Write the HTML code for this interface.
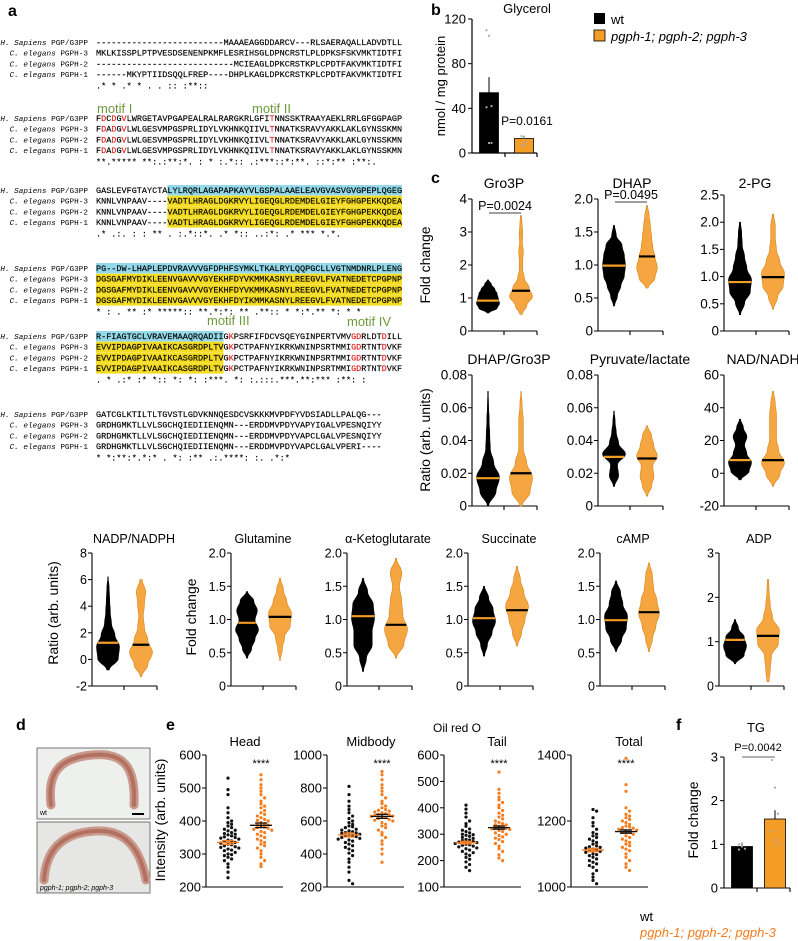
<!DOCTYPE html>
<html><head><meta charset="utf-8">
<style>
html,body{margin:0;padding:0;background:#fff;}
svg{display:block;font-family:"Liberation Sans",sans-serif;}
.mono{font-family:"Liberation Mono",monospace;font-size:8.5px;stroke:#000;stroke-width:0.15px;}
.lab{font-family:"Liberation Mono",monospace;font-size:7.7px;}
</style></head>
<body>
<svg id="fig" width="798" height="941" viewBox="0 0 798 941" xmlns="http://www.w3.org/2000/svg">
<text x="8" y="16" font-size="16" font-weight="bold">a</text>
<text x="431" y="15" font-size="16" font-weight="bold">b</text>
<text x="431" y="183" font-size="16" font-weight="bold">c</text>
<text x="16" y="730" font-size="16" font-weight="bold">d</text>
<text x="166" y="730" font-size="16" font-weight="bold">e</text>
<text x="676" y="730" font-size="16" font-weight="bold">f</text>
<g id="align"></g>
<g>
<rect x="594" y="13" width="11" height="11" fill="#000"/>
<text x="611" y="24" font-size="13">wt</text>
<rect x="594" y="30" width="11" height="11" fill="#f39c26" stroke="#000" stroke-width="0.8"/>
<text x="611" y="41" font-size="13" font-style="italic">pgph-1; pgph-2; pgph-3</text>
</g>
<g>
<rect x="37" y="748" width="113" height="71" fill="#eef0ee" stroke="#555" stroke-width="0.8"/>
<path d="M51,805 C47,772 60,758 92,755 C122,752 136,765 134,805" fill="none" stroke="#c99a8c" stroke-width="9" stroke-linecap="round"/>
<path d="M51,805 C47,772 60,758 92,755 C122,752 136,765 134,805" fill="none" stroke="#a9604f" stroke-width="4" stroke-linecap="round" opacity="0.7"/>
<text x="40" y="815" font-size="7">wt</text>
<rect x="132" y="813" width="12" height="2" fill="#000"/>
<rect x="37" y="822" width="113" height="71" fill="#e6e6e4" stroke="#555" stroke-width="0.8"/>
<path d="M44,880 C46,850 62,833 95,831 C125,829 140,848 146,880" fill="none" stroke="#c99a8c" stroke-width="9" stroke-linecap="round"/>
<path d="M44,880 C46,850 62,833 95,831 C125,829 140,848 146,880" fill="none" stroke="#a9604f" stroke-width="4" stroke-linecap="round" opacity="0.7"/>
<text x="40" y="890" font-size="7" font-style="italic">pgph-1; pgph-2; pgph-3</text>
</g>
<text x="457" y="732" font-size="12" text-anchor="middle">Oil red O</text>
<text x="640" y="921" font-size="13">wt</text>
<text x="640" y="937" font-size="13" font-style="italic" fill="#f47d20">pgph-1; pgph-2; pgph-3</text>
</svg>
<script>
const NS="http://www.w3.org/2000/svg";
const svg=document.getElementById('fig');
function mk(tag,attrs,parent){const e=document.createElementNS(NS,tag);for(const k in attrs)e.setAttribute(k,attrs[k]);(parent||svg).appendChild(e);return e;}

/* ---------- alignment ---------- */
const alnLabels=[["H. Sapiens"," PGP/G3PP"],["C. elegans"," PGPH-3"],["C. elegans"," PGPH-2"],["C. elegans"," PGPH-1"]];
const alnBlocks=[
["-------------------------MAAAEAGGDDARCV---RLSAERAQALLADVDTLL","MKLKISSPLPTPVESDSENENPKMFLESRIHSGLDPNCRSTLPLDPKSFSKVMKTIDTFI","---------------------------MCIEAGLDPKCRSTKPLCPDTFAKVMKTIDTFI","------MKYPTIIDSQQLFREP----DHPLKAGLDPKCRSTKPLCPDTFAKVMKTIDTFI","                                .* * .*    *  .    .   ::  :**::"],
["FDCDGVLWRGETAVPGAPEALRALRARGKRLGFITNNSSKTRAAYAEKLRRLGFGGPAGP","FDADGVLWLGESVMPGSPRLIDYLVKHNKQIIVLTNNATKSRAVYAKKLAKLGYNSSKMN","FDADGVLWLGESVMPGSPRLIDYLVKHNKQIIVLTNNATKSRAVYAKKLAKLGYNSSKMN","FDADGVLWLGESVMPGSPRLIDYLVKHNKQIIVLTNNATKSRAVYAKKLAKLGYNSSKMN","**.***** **:.:**:*. :  *  :.*:: .:***::*:**.  ::*:**  :**:."],
["GASLEVFGTAYCTALYLRQRLAGAPAPKAYVLGSPALAAELEAVGVASVGVGPEPLQGEG","KNNLVNPAAV----VADTLHRAGLDGKRVYLIGEQGLRDEMDELGIEYFGHGPEKKQDEA","KNNLVNPAAV----VADTLHRAGLDGKRVYLIGEQGLRDEMDELGIEYFGHGPEKKQDEA","KNNLVNPAAV----VADTLHRAGLDGKRVYLIGEQGLRDEMDELGIEYFGHGPEKKQDEA"," .*  .:.  :    : **  . :.*::*. .*  *:: ..:*:  .* ***  *.*."],
["PG--DW-LHAPLEPDVRAVVVGFDPHFSYMKLTKALRYLQQPGCLLVGTNMDNRLPLENG","DGSGAFMYDIKLEENVGAVVVGYEKHFDYVKMMKASNYLREEGVLFVATNEDETCPGPNP","DGSGAFMYDIKLEENVGAVVVGYEKHFDYVKMMKASNYLREEGVLFVATNEDETCPGPNP","DGSGAFMYDIKLEENVGAVVVGYEKHFDYIKMMKASNYLREEGVLFVATNEDETCPGPNP","*   :  .  ** :* *****:: **.*:*: ** .**:: * *:*.** *:  *  *"],
["R-FIAGTGCLVRAVEMAAQRQADIIGKPSRFIFDCVSQEYGINPERTVMVGDRLDTDILL","EVVIPDAGPIVAAIKCASGRDPLTVGKPCTPAFNYIKRKWNINPSRTMMIGDRTNTDVKF","EVVIPDAGPIVAAIKCASGRDPLTVGKPCTPAFNYIKRKWNINPSRTMMIGDRTNTDVKF","EVVIPDAGPIVAAIKCASGRDPLTVGKPCTPAFNYIKRKWNINPSRTMMIGDRTNTDVKF"," . * .:* :* *:: *: *:    :***.   *: :.:::.***.**:***  :**: :"],
["GATCGLKTILTLTGVSTLGDVKNNQESDCVSKKKMVPDFYVDSIADLLPALQG---","GRDHGMKTLLVLSGCHQIEDIIENQMN---ERDDMVPDYVAPYIGALVPESNQIYY","GRDHGMKTLLVLSGCHQIEDIIENQMN---ERDDMVPDYVAPCLGALVPESNQIYY","GRDHGMKTLLVLSGCHQIEDIIENQMN---ERDDMVPDYVAPCLGALVPERI----","*   *:**:*.*:*   . *: :**      .:.****:   :.  .*:*"]
];
const alnBaselines=[45,121,193,271,339,417];
const alnRed=[[],[1,3,5,34],[],[],[26,50,51,56],[]];
const alnCyan=[null,null,[14,60],[0,60],[0,25],null];
const alnYellow=[null,null,[14,60],[0,60],[0,25],null];
const ag=document.getElementById('align');
const CW=5.1,X0=96;
alnBlocks.forEach((blk,bi)=>{
  const by=alnBaselines[bi];
  for(let r=0;r<5;r++){
    const y=by+(r<4?r*10.7:4*10.7+0.5);
    if(r<4){
      const hl=r===0?alnCyan[bi]:alnYellow[bi];
      if(hl){
        const rc=mk('rect',{x:X0+hl[0]*CW,y:y-8,width:(hl[1]-hl[0])*CW,height:10.5,fill:r===0?'#93d9ea':'#f4dc22'},ag);
        
        
      }
      const lt=mk('text',{x:88,y:y,'text-anchor':'end','class':'lab'},ag);
      
      
      const sp1=mk('tspan',{'font-style':'italic'},lt);sp1.textContent=alnLabels[r][0];
      const sp2=mk('tspan',{},lt);sp2.textContent=alnLabels[r][1];
    }
    const seq=blk[r];
    const t=mk('text',{x:X0,y:y,'class':'mono','xml:space':'preserve'},ag);
    
    
    const reds=alnRed[bi];
    let cur='',curRed=false;
    const flush=()=>{if(!cur)return;const s=mk('tspan',curRed?{fill:'#e52420',stroke:'#e52420'}:{},t);s.textContent=cur;cur='';};
    for(let i=0;i<seq.length;i++){const isR=r<4&&reds.includes(i);if(isR!==curRed){flush();curRed=isR;}cur+=seq[i];}
    flush();
  }
});
const motifs=[["motif I",97,113],["motif II",252,113],["motif III",207,325],["motif IV",347,326]];
motifs.forEach(m=>{const t=mk('text',{x:m[1],y:m[2],'font-size':13,fill:'#6e9a3c'},ag);t.textContent=m[0];

});

/* ---------- panel b: glycerol bars ---------- */
const glyGroups=["wt","pgph-1; pgph-2; pgph-3"];
const glyMeans=[54,13];
const glySem=[14,2.5];
const glyTicks=[0,40,80,120];
const glyPoints=[[110,105,42,41,9,9],[15,14,10,8,7]];
(function(){
  const ax=472,y0=153,y1=19,vmax=120;
  const sy=v=>y0-(v/vmax)*(y0-y1);
  const g=mk('g',{});
  
  
  const tt=mk('text',{x:527,y:13,'font-size':13,'text-anchor':'middle'},g);tt.textContent='Glycerol';
  
  
  const yl=mk('text',{x:0,y:0,'font-size':13,'text-anchor':'middle',transform:`translate(445,${(y0+y1)/2}) rotate(-90)`},g);yl.textContent='nmol / mg protein';
  
  
  const ya=mk('line',{x1:ax,y1:y1,x2:ax,y2:y0,stroke:'#000','stroke-width':1.2},g);
  
  
  glyTicks.forEach(v=>{const l=mk('line',{x1:ax-4,y1:sy(v),x2:ax,y2:sy(v),stroke:'#000'},g);
    
    
    const tx=mk('text',{x:ax-6,y:sy(v)+4.5,'font-size':13,'text-anchor':'end'},g);tx.textContent=v;
    
    });
  const xa=mk('path',{d:`M${ax},${y0}H537M505,${y0}v4M537,${y0}v4`,stroke:'#000','stroke-width':1.2,fill:'none'},g);
  
  
  const cx=[489,524];
  glyMeans.forEach((m,i)=>{
    const eb=mk('line',{x1:cx[i],y1:sy(m),x2:cx[i],y2:sy(m+glySem[i]),stroke:'#000','stroke-width':1},g);
    
    
    const b=mk('rect',{x:cx[i]-9.5,y:sy(m),width:19,height:y0-sy(m),fill:i?'#f39c26':'#000',stroke:'#000','stroke-width':0.8},g);
    
    
    glyPoints[i].forEach((p,k)=>{const c=mk('circle',{cx:cx[i]+((k%3)-1)*2.5,cy:sy(p),r:1.1,fill:'#aaa'},g);
      
      });
  });
  const pv=mk('text',{x:527,y:125,'font-size':12,'text-anchor':'middle'},g);pv.textContent='P=0.0161';
  
  
})();

/* ---------- panel c + row 3: violins ---------- */
const vTitles=["Gro3P","DHAP","2-PG","DHAP/Gro3P","Pyruvate/lactate","NAD/NADH","NADP/NADPH","Glutamine","α-Ketoglutarate","Succinate","cAMP","ADP"];
const vYMin=[0,0,0,0,0,-20,-2,0,0,0,0,0];
const vYMax=[4,2,2.5,0.08,0.08,60,8,2,2,2,2,3];
const vTicks=[[0,1,2,3,4],[0,0.5,1,1.5,2],[0,0.5,1,1.5,2,2.5],[0,0.02,0.04,0.06,0.08],[0,0.02,0.04,0.06,0.08],[-20,0,20,40,60],[-2,0,2,4,6,8],[0,0.5,1,1.5,2],[0,0.5,1,1.5,2],[0,0.5,1,1.5,2],[0,0.5,1,1.5,2],[0,1,2,3]];
const vTickLabels=[["0","1","2","3","4"],["0","0.5","1.0","1.5","2.0"],["0","0.5","1.0","1.5","2.0","2.5"],["0","0.02","0.04","0.06","0.08"],["0","0.02","0.04","0.06","0.08"],["-20","0","20","40","60"],["-2","0","2","4","6","8"],["0","0.5","1.0","1.5","2.0"],["0","0.5","1.0","1.5","2.0"],["0","0.5","1.0","1.5","2.0"],["0","0.5","1.0","1.5","2.0"],["0","1","2","3"]];
const wtMin=[0.55,0.38,0.3,0,0.012,-4,-0.8,0.42,0.22,0.45,0.52,0.5];
const wtMax=[1.55,1.6,2.0,0.07,0.058,33,6.2,1.42,1.62,1.5,1.58,1.5];
const wtMed=[0.92,0.99,0.9,0.017,0.030,8,1.25,0.95,1.05,1.02,0.99,1.04];
const wtShape=[[0.1,0.8,1,0.9,0.8,0.6,0.3,0.05],[0.05,0.3,0.6,0.9,1,0.9,0.7,0.2,0.05],[0.05,0.4,0.9,1,0.6,0.4,0.2,0.15,0.05],[0.05,0.7,1,0.5,0.2,0.15,0.1,0.05,0.02],[0.05,0.4,0.3,1,0.4,0.2,0.1,0.02],[0.1,0.8,1,0.6,0.4,0.6,0.3,0.05],[0.1,0.9,1,0.6,0.3,0.2,0.15,0.1,0.02],[0.05,0.4,0.7,1,0.7,0.9,0.6,0.05],[0.05,0.3,0.8,0.8,1,0.9,0.4,0.05],[0.05,0.3,0.7,1,0.8,0.4,0.05],[0.05,0.5,0.9,1,0.6,0.4,0.05],[0.05,0.8,1,0.8,0.3,0.05]];
const mutMin=[0.5,0.65,0.4,0,0.006,-8,-1.3,0.38,0.42,0.6,0.52,0.1];
const mutMax=[3.5,1.9,2.15,0.07,0.049,50,6,1.62,1.92,1.8,1.85,2.4];
const mutMed=[1.22,1.13,0.99,0.02,0.029,8,1.1,1.04,0.92,1.14,1.11,1.13];
const mutShape=[[0.1,0.5,1,0.7,0.3,0.15,0.15,0.2,0.12,0.15,0.1,0.05],[0.1,0.7,0.9,0.7,0.5,0.4,0.3,0.2,0.05],[0.05,0.4,0.9,1,0.6,0.3,0.2,0.2,0.05],[0.1,0.8,1,0.5,0.2,0.2,0.2,0.1,0.02],[0.05,0.4,0.6,0.5,0.9,0.6,0.4,0.05],[0.05,0.6,1,0.5,0.3,0.3,0.3,0.2,0.05],[0.05,0.6,1,0.6,0.3,0.2,0.3,0.4,0.1],[0.02,0.2,0.4,0.9,1,0.6,0.3,0.05],[0.05,0.7,1,0.6,0.5,0.3,0.5,0.05],[0.05,0.4,0.7,1,0.6,0.3,0.05],[0.05,0.3,0.6,0.9,0.7,0.4,0.3,0.05],[0.1,0.2,0.3,0.9,1,0.4,0.2,0.1,0.05]];
const vPvals=["P=0.0024","P=0.0495","","","","","","","","","",""];
/* layout */
const vAxX=[472,598,724,472,598,724,92,231,347,468,600,719];
const vTitleX=[504,632,755,509,640,763,134,263,388,509,633,759];
const vTop=[199,199,195,375,375,375,553,553,553,553,553,553];
const vBot=[331,331,331,506,506,506,686,686,686,686,686,686];
const vTitleY=[188,188,188,364,364,364,543,543,543,543,543,543];

function widthAt(shape,t){const n=shape.length-1;const p=t*n;const i=Math.min(n-1,Math.floor(p));const f=p-i;const c=(1-Math.cos(f*Math.PI))/2;return shape[i]*(1-c)+shape[i+1]*c;}
vTitles.forEach((title,ci)=>{
  const ax=vAxX[ci],yT=vTop[ci],yB=vBot[ci],lo=vYMin[ci],hi=vYMax[ci];
  const sy=v=>yB-(v-lo)/(hi-lo)*(yB-yT);
  const row3=ci>=6;
  const g=mk('g',{});
  
  
  const tt=mk('text',{x:vTitleX[ci],y:vTitleY[ci],'font-size':row3?12.5:14,'text-anchor':'middle'},g);tt.textContent=title;
  
  
  const ya=mk('line',{x1:ax,y1:yT,x2:ax,y2:yB,stroke:'#000','stroke-width':1.1},g);
  
  
  vTicks[ci].forEach((v,k)=>{
    const l=mk('line',{x1:ax-4,y1:sy(v),x2:ax,y2:sy(v),stroke:'#000'},g);
    
    
    const tx=mk('text',{x:ax-5,y:sy(v)+4.5,'font-size':row3?12.5:13.5,'text-anchor':'end'},g);
    tx.textContent=vTickLabels[ci][k];
    
    
  });
  const xa=mk('path',{d:`M${ax},${yB}h65M${ax+32},${yB}v4M${ax+65},${yB}v4`,stroke:'#000','stroke-width':1.1,fill:'none'},g);
  
  
  const groups=[[wtMin[ci],wtMax[ci],wtMed[ci],wtShape[ci],ax+16,'#000','#000','#f39c26'],[mutMin[ci],mutMax[ci],mutMed[ci],mutShape[ci],ax+49,'#f5a640','#d9861c','#000']];
  groups.forEach((gr,gi)=>{
    const [mn,mx,md,shape,cx,fill,stroke,medc]=gr;const HW=11.5;const N=50;
    let right=[],left=[];
    for(let s=0;s<=N;s++){const t=s/N;const v=mn+t*(mx-mn);const w=Math.max(0.3,widthAt(shape,t)*HW);right.push([cx+w,sy(v)]);left.push([cx-w,sy(v)]);}
    const pts=right.concat(left.reverse());
    const d='M'+pts.map(p=>p[0].toFixed(1)+','+p[1].toFixed(1)).join('L')+'Z';
    const vp=mk('path',{d:d,fill:fill,stroke:stroke,'stroke-width':0.6},g);
    
    
    const tm=(md-mn)/(mx-mn);const wm=Math.max(6,widthAt(shape,Math.min(1,Math.max(0,tm)))*HW);
    const ml=mk('line',{x1:cx-wm,y1:sy(md),x2:cx+wm,y2:sy(md),stroke:medc,'stroke-width':2.2},g);
    
    
  });
  if(vPvals[ci]){
    const py=ci===0?210:199;
    const pt=mk('text',{x:ax+33,y:py,'font-size':12.5,'text-anchor':'middle'},g);pt.textContent=vPvals[ci];
    
    
    const pl=mk('line',{x1:ax+17,y1:py+3,x2:ax+49,y2:py+3,stroke:'#000','stroke-width':0.8},g);
    
    
  }
});
[["Fold change",430,265],["Ratio (arb. units)",430,440],["Ratio (arb. units)",58,613],["Fold change",196,617]].forEach(a=>{
  const t=mk('text',{x:0,y:0,'font-size':14,'text-anchor':'middle',transform:`translate(${a[1]},${a[2]}) rotate(-90)`});t.textContent=a[0];
  
  
});

/* ---------- panel e: scatter ---------- */
const eTitles=["Head","Midbody","Tail","Total"];
const eYMin=[200,200,100,1000];
const eYMax=[600,1000,600,1400];
const eTicks=[[200,300,400,500,600],[200,400,600,800,1000],[100,200,300,400,500,600],[1000,1200,1400]];
const eWt=[
[530,495,480,440,425,410,400,395,390,385,380,375,372,370,365,362,360,358,355,352,350,348,345,342,340,338,335,333,330,328,325,322,320,318,315,312,310,305,300,298,295,290,285,280,270,260,245,228],
[810,760,720,690,670,650,630,615,600,590,580,570,565,560,550,545,540,535,530,528,525,520,515,512,510,505,500,495,490,485,478,470,460,450,440,430,420,405,390,370,350,320,290,240,220],
[410,395,380,365,350,340,330,320,315,310,305,300,298,296,292,288,284,280,278,276,272,270,268,265,262,260,258,255,252,248,245,240,235,230,225,220,212,205,195,185,175,162],
[1235,1230,1210,1195,1185,1175,1165,1160,1155,1150,1145,1140,1135,1130,1125,1122,1120,1118,1115,1112,1110,1108,1105,1100,1098,1095,1090,1085,1080,1075,1070,1065,1060,1050,1040,1030,1020,1010]];
const eMut=[
[540,525,510,500,490,480,470,460,452,445,440,432,425,420,415,410,405,402,400,396,392,390,388,385,382,380,378,375,372,368,365,360,355,350,345,340,335,330,325,318,310,300,290,280,270,262],
[900,880,850,820,800,780,760,740,720,705,690,680,670,665,660,655,650,645,640,638,635,630,628,625,620,615,610,605,600,590,580,570,560,545,530,515,500,480,460,430,400,350],
[535,470,455,440,430,420,410,400,390,380,372,365,358,350,345,340,336,335,330,328,326,322,320,318,314,310,305,300,295,290,285,280,272,265,255,245,235,222,210,200],
[1390,1310,1290,1240,1230,1220,1215,1210,1205,1200,1195,1190,1185,1182,1180,1178,1175,1172,1170,1168,1165,1160,1155,1150,1145,1140,1135,1130,1125,1120,1115,1110,1100,1090,1080,1070,1060,1050]];
const eWtMean=[335,515,268,1112];
const eMutMean=[387,628,325,1168];
const eWtSem=[6,12,5,5];
const eMutSem=[7,12,6,5];
const eAxX=[206,327,444,571];
const eTitleX=[245,371,497,629];
const eTop=755,eBot=887;
eTitles.forEach((title,ci)=>{
  const ax=eAxX[ci],lo=eYMin[ci],hi=eYMax[ci];
  const sy=v=>eBot-(v-lo)/(hi-lo)*(eBot-eTop);
  const g=mk('g',{});
  
  
  const tt=mk('text',{x:eTitleX[ci],y:746,'font-size':13,'text-anchor':'middle'},g);tt.textContent=title;
  
  
  const ya=mk('line',{x1:ax,y1:eTop,x2:ax,y2:eBot,stroke:'#000','stroke-width':1.1},g);
  
  
  eTicks[ci].forEach(v=>{
    const l=mk('line',{x1:ax-4,y1:sy(v),x2:ax,y2:sy(v),stroke:'#000'},g);
    
    
    const tx=mk('text',{x:ax-5,y:sy(v)+4.5,'font-size':13,'text-anchor':'end'},g);tx.textContent=v;
    
    
  });
  const xa=mk('line',{x1:ax,y1:eBot,x2:ax+77,y2:eBot,stroke:'#000','stroke-width':1.1},g);
  
  
  [[eWt[ci],ax+22,'#111',eWtMean[ci],eWtSem[ci],'#f47d20'],[eMut[ci],ax+55,'#f47d20',eMutMean[ci],eMutSem[ci],'#111']].forEach((gr,gi)=>{
    const [vals,cx,col,mean,sem,lc]=gr;const bins={};
    vals.forEach(v=>{const py=sy(v);const b=Math.round(py/4.5);bins[b]=(bins[b]||0)+1;const j=bins[b]-1;const off=(j===0?0:(j%2?1:-1)*Math.ceil(j/2))*3.6;
      const c=mk('circle',{cx:cx+off,cy:py,r:1.6,fill:col},g);
      
      });
    const ml=mk('path',{d:`M${cx-11},${sy(mean)}h22M${cx-6},${sy(mean+sem)}h12M${cx-6},${sy(mean-sem)}h12M${cx},${sy(mean+sem)}V${sy(mean-sem)}`,stroke:lc,'stroke-width':1.3,fill:'none'},g);
    
    
  });
  const st=mk('text',{x:ax+55,y:767,'font-size':11,'text-anchor':'middle'},g);st.textContent='****';
  
  
});
(function(){const t=mk('text',{x:0,y:0,'font-size':14,'text-anchor':'middle',transform:'translate(165,820) rotate(-90)'});t.textContent='Intensity (arb. units)';

})();

/* ---------- panel f: TG ---------- */
const tgMeans=[0.95,1.58];
const tgSem=[0.05,0.2];
const tgTicks=[0,1,2,3];
const tgPoints=[[1.0,0.95,0.9,0.88,1.02],[2.93,2.3,1.7,1.3,1.1,1.0]];
(function(){
  const ax=724,y0=888,y1=757,vmax=3;const sy=v=>y0-v/vmax*(y0-y1);
  const g=mk('g',{});
  
  
  const tt=mk('text',{x:756,y:732,'font-size':13,'text-anchor':'middle'},g);tt.textContent='TG';
  
  
  const yl=mk('text',{x:0,y:0,'font-size':14,'text-anchor':'middle',transform:'translate(698,820) rotate(-90)'},g);yl.textContent='Fold change';
  
  
  const ya=mk('line',{x1:ax,y1:y1,x2:ax,y2:y0,stroke:'#000','stroke-width':1.1},g);
  
  
  tgTicks.forEach(v=>{const l=mk('line',{x1:ax-4,y1:sy(v),x2:ax,y2:sy(v),stroke:'#000'},g);
    
    
    const tx=mk('text',{x:ax-6,y:sy(v)+4.5,'font-size':13,'text-anchor':'end'},g);tx.textContent=v;
    
    });
  const xa=mk('path',{d:`M${ax},${y0}H790M757,${y0}v4M790,${y0}v4`,stroke:'#000','stroke-width':1.1,fill:'none'},g);
  
  
  const cx=[742,775];
  tgMeans.forEach((m,i)=>{
    const eb=mk('line',{x1:cx[i],y1:sy(m),x2:cx[i],y2:sy(m+tgSem[i]),stroke:'#000'},g);
    
    
    const b=mk('rect',{x:cx[i]-10.5,y:sy(m),width:21,height:y0-sy(m),fill:i?'#f39c26':'#000',stroke:'#000','stroke-width':0.8},g);
    
    
    tgPoints[i].forEach((p,k)=>{const c=mk('circle',{cx:cx[i]+((k%3)-1)*3,cy:sy(p),r:1.1,fill:'#aaa'},g);
      
      });
  });
  const pv=mk('text',{x:758,y:751,'font-size':11,'text-anchor':'middle'},g);pv.textContent='P=0.0042';
  
  
  const pl=mk('line',{x1:742,y1:757,x2:775,y2:757,stroke:'#999','stroke-width':1.5},g);
  
  
})();
</script>
</body></html>
